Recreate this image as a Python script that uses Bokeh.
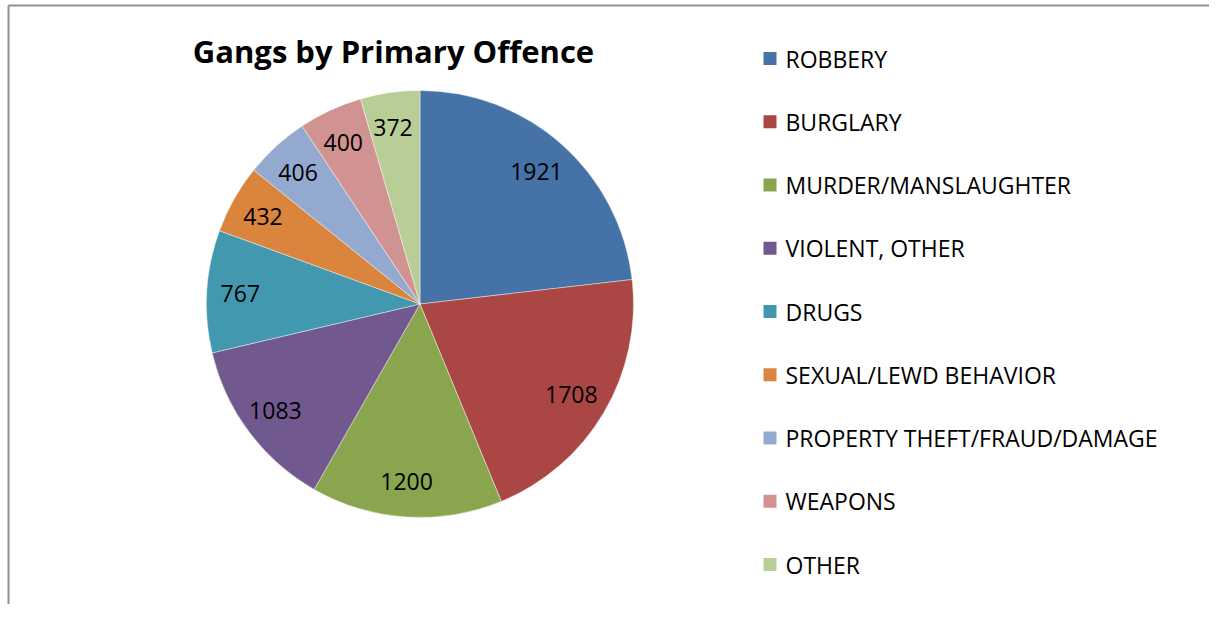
import numpy as np
from bokeh.plotting import figure
from bokeh.models import Range1d, ColumnDataSource
from bokeh.core.properties import value
from bokeh.embed import file_html
from bokeh.resources import INLINE

# ---- data ----
categories = ["ROBBERY", "BURGLARY", "MURDER/MANSLAUGHTER", "VIOLENT, OTHER", "DRUGS",
              "SEXUAL/LEWD BEHAVIOR", "PROPERTY THEFT/FRAUD/DAMAGE", "WEAPONS", "OTHER"]
counts = [1921, 1708, 1200, 1083, 767, 432, 406, 400, 372]
colors = ["#4572A7", "#AA4643", "#89A54E", "#71588F", "#4198AF",
          "#DB843D", "#93A9CF", "#D19392", "#B9CD96"]
title_text = "Gangs by Primary Offence"

# ---- layout (pixel-like data units) ----
W, H = 1209, 604
cx, cy, R = 419.5, 300.5, 213.5
label_r = 178
FONT = "Open Sans"

vals = np.array(counts, dtype=float)
frac = vals / vals.sum()
cum_end = np.cumsum(frac)
cum_start = cum_end - frac
start_angle = np.pi / 2 - cum_end * 2 * np.pi
end_angle = np.pi / 2 - cum_start * 2 * np.pi
mid = (start_angle + end_angle) / 2

src = ColumnDataSource(dict(
    cat=categories, val=[str(v) for v in counts], color=colors,
    start=start_angle, end=end_angle,
    lx=cx + label_r * np.cos(mid) - 2, ly=cy + label_r * np.sin(mid),
))

p = figure(width=W, height=H, x_range=Range1d(0, W), y_range=Range1d(0, H),
           output_backend="svg", toolbar_location=None, min_border=0)
p.axis.visible = False
p.grid.visible = False
p.outline_line_color = None
p.background_fill_color = "white"

# chart-area border (top and left visible in reference)
p.segment(x0=[8, 8], y0=[0, H - 5], x1=[8, W], y1=[H - 5, H - 5],
          line_color="#8f8f8f", line_width=2)

p.wedge(x=cx, y=cy, radius=R, start_angle="start", end_angle="end",
        fill_color="color", line_color="white", line_width=0.6, line_alpha=0.7,
        source=src)

p.text(x="lx", y="ly", text="val", source=src, text_align="center",
       text_baseline="middle", text_font=value(FONT), text_font_size="23px",
       text_color="black")

# title
p.text(x=[393], y=[H - 50], text=[title_text], text_align="center", text_baseline="middle",
       text_font=value(FONT), text_font_style="bold", text_font_size="31px",
       text_color="black")

# legend
n = len(categories)
leg_y = (H - 58) - 63.25 * np.arange(n)
leg = ColumnDataSource(dict(x=[769.5] * n, tx=[785] * n, y=leg_y, cat=categories, color=colors))
p.rect(x="x", y="y", width=13, height=13, fill_color="color", line_color=None, source=leg)
p.text(x="tx", y="y", text="cat", source=leg, text_align="left", text_baseline="middle",
       text_font=value(FONT), text_font_size="23px", text_color="black")

open("out.html", "w").write(file_html(p, INLINE))
